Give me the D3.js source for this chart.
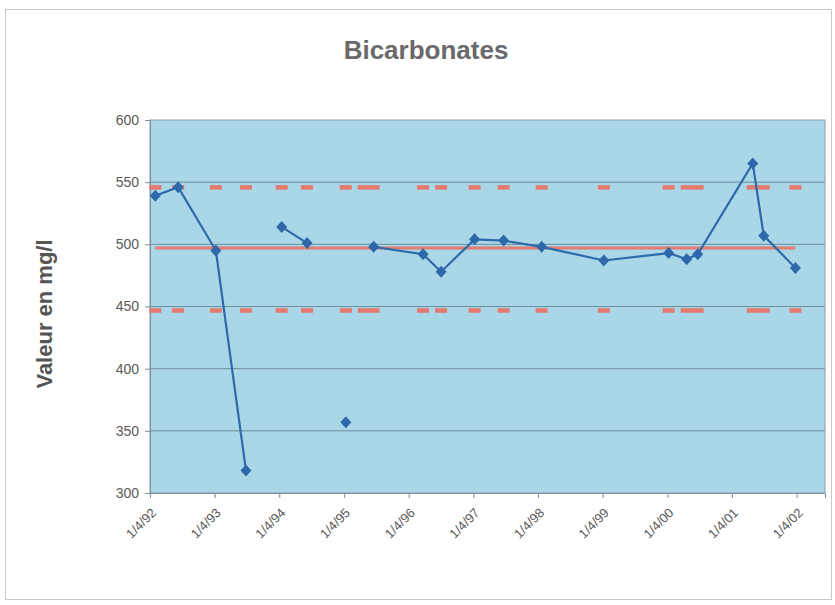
<!DOCTYPE html>
<html>
<head>
<meta charset="utf-8">
<script src="https://cdn.jsdelivr.net/npm/d3@7"></script>
<style>
  html, body { margin: 0; padding: 0; background: #fff; }
  svg { display: block; font-family: "Liberation Sans", Arial, sans-serif; }
</style>
</head>
<body>
<svg id="chart" width="835" height="605"></svg>
<script>
// Sampling dates and bicarbonate concentrations (mg/l); null breaks the line
const sampleDates = [
  "1992-05-01", "1992-09-07", "1993-04-08", "1993-09-25", "1994-01-15",
  "1994-04-15", "1994-09-05", "1995-01-10", "1995-04-12", "1995-07-22",
  "1995-09-16", "1996-06-21", "1996-10-01", "1997-04-08", "1997-09-19",
  "1998-04-22", "1999-04-08", "2000-04-08", "2000-07-19", "2000-09-19",
  "2001-07-27", "2001-09-27", "2002-03-25"
];
const sampleValues = [
  539, 546, 495, 318, null,
  514, 501, null, 357, null,
  498, 492, 478, 504, 503,
  498, 487, 493, 488, 492,
  565, 507, 481
];
// Dates carrying the control-limit markers
const limitDates = [
  "1992-05-01", "1992-09-07", "1993-04-08", "1993-09-25",
  "1994-04-15", "1994-09-05", "1995-04-12", "1995-07-22",
  "1995-09-16", "1996-06-21", "1996-10-01", "1997-04-08", "1997-09-19",
  "1998-04-22", "1999-04-08", "2000-04-08", "2000-07-19", "2000-09-19",
  "2001-07-27", "2001-09-27", "2002-03-25"
];
const meanValue = 497;
const upperLimit = 546;
const lowerLimit = 447;
const yTicks = [300, 350, 400, 450, 500, 550, 600];
const xTickDates = ["1992-04-01", "1993-04-01", "1994-04-01", "1995-04-01", "1996-04-01",
  "1997-04-01", "1998-04-01", "1999-04-01", "2000-04-01", "2001-04-01", "2002-04-01"];
const axisStart = "1992-04-01";
const axisEnd = "2002-09-08";

const parse = d3.timeParse("%Y-%m-%d");
const fmt = d => `${d.getDate()}/${d.getMonth() + 1}/${String(d.getFullYear()).slice(2)}`;

const svg = d3.select("#chart");
const plot = { left: 150, top: 120, right: 825, bottom: 493 };

const x = d3.scaleTime()
  .domain([parse(axisStart), parse(axisEnd)])
  .range([plot.left, plot.right]);
const y = d3.scaleLinear()
  .domain([300, 600])
  .range([plot.bottom, plot.top]);

// Outer frame
svg.append("rect")
  .attr("x", 5.5).attr("y", 9.5).attr("width", 826).attr("height", 590)
  .attr("fill", "none").attr("stroke", "#c8c8c8").attr("stroke-width", 1);

// Title
svg.append("text")
  .attr("x", 426).attr("y", 59)
  .attr("text-anchor", "middle")
  .attr("font-size", 26).attr("font-weight", "bold")
  .attr("fill", "#6a6a6a")
  .text("Bicarbonates");

// Plot background
svg.append("rect")
  .attr("x", plot.left).attr("y", plot.top)
  .attr("width", plot.right - plot.left).attr("height", plot.bottom - plot.top)
  .attr("fill", "#a9d7e7");

// Horizontal gridlines
svg.append("g")
  .selectAll("line")
  .data(yTicks.filter(v => v > 300 && v < 600))
  .join("line")
  .attr("x1", plot.left).attr("x2", plot.right)
  .attr("y1", d => y(d)).attr("y2", d => y(d))
  .attr("stroke", "#6f8e9b").attr("stroke-width", 1);

// Plot border
svg.append("rect")
  .attr("x", plot.left).attr("y", plot.top)
  .attr("width", plot.right - plot.left).attr("height", plot.bottom - plot.top)
  .attr("fill", "none").attr("stroke", "#8aa0aa").attr("stroke-width", 1);

// Y axis
const yAxis = svg.append("g")
  .attr("transform", `translate(${plot.left},0)`)
  .call(d3.axisLeft(y).tickValues(yTicks).tickSize(5).tickPadding(6));
yAxis.select(".domain").attr("stroke", "#7d8f98");
yAxis.selectAll(".tick line").attr("stroke", "#7d8f98");
yAxis.selectAll(".tick text")
  .attr("font-size", 14).attr("fill", "#5a5a5a")
  .attr("font-family", "'Liberation Sans', Arial, sans-serif");

// X axis
const xAxis = svg.append("g")
  .attr("transform", `translate(0,${plot.bottom})`)
  .call(d3.axisBottom(x).tickValues(xTickDates.map(parse)).tickFormat(fmt).tickSize(5).tickPadding(4));
xAxis.select(".domain").attr("stroke", "#7d8f98");
xAxis.selectAll(".tick line").attr("stroke", "#7d8f98");
xAxis.selectAll(".tick text")
  .attr("font-size", 13).attr("fill", "#5a5a5a")
  .attr("font-family", "'Liberation Sans', Arial, sans-serif")
  .attr("text-anchor", "end")
  .attr("dy", "0.35em")
  .attr("transform", "translate(-3,11) rotate(-45)");

// Y axis title
svg.append("text")
  .attr("transform", `translate(52,314) rotate(-90)`)
  .attr("text-anchor", "middle")
  .attr("font-size", 22).attr("font-weight", "bold")
  .attr("fill", "#555")
  .text("Valeur en mg/l");

const lDates = limitDates.map(parse);

// Mean line
svg.append("line")
  .attr("x1", x(lDates[0])).attr("x2", x(lDates[lDates.length - 1]))
  .attr("y1", y(meanValue)).attr("y2", y(meanValue))
  .attr("stroke", "#e47a70").attr("stroke-width", 3);

// Upper and lower limit markers
[upperLimit, lowerLimit].forEach(v => {
  svg.append("g")
    .selectAll("rect")
    .data(lDates)
    .join("rect")
    .attr("x", d => x(d) - 6).attr("y", y(v) - 2)
    .attr("width", 12).attr("height", 4.5)
    .attr("fill", "#e6796e");
});

// Measurement series
const series = sampleDates.map((d, i) => ({ date: parse(d), value: sampleValues[i] }));
const line = d3.line()
  .defined(d => d.value !== null)
  .x(d => x(d.date)).y(d => y(d.value));

svg.append("path")
  .datum(series)
  .attr("d", line)
  .attr("fill", "none")
  .attr("stroke", "#2f6aac").attr("stroke-width", 2.2);

svg.append("g")
  .selectAll("path")
  .data(series.filter(d => d.value !== null))
  .join("path")
  .attr("transform", d => `translate(${x(d.date)},${y(d.value)})`)
  .attr("d", "M0,-6L5.5,0L0,6L-5.5,0Z")
  .attr("fill", "#2e68ab");
</script>
</body>
</html>
